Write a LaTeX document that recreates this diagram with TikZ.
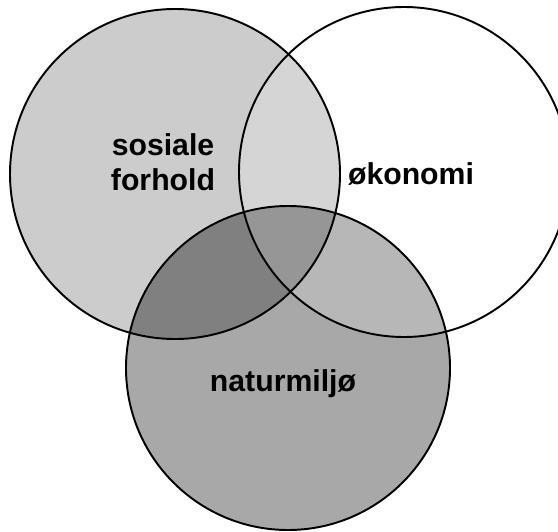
\documentclass[tikz,border=0pt]{standalone}
\usepackage{fontspec}
\setmainfont{Liberation Sans}
\usetikzlibrary{positioning}

\newcommand{\sosialring}{(175,174) circle (165)}
\newcommand{\okonomiring}{(404,172) circle (165)}
\newcommand{\naturring}{(288,368) circle (162)}

\begin{document}
\begin{tikzpicture}[x=0.02cm,y=-0.02cm,
    ring/.style={draw=black,line width=1.1pt},
    lbl/.style={font=\bfseries\fontsize{17.2pt}{19.9pt}\selectfont,align=center,inner sep=0pt,anchor=base}]
    \useasboundingbox (0,0) rectangle (558,531);
    % fills
    \fill[black!20] \sosialring;
    \fill[black!34] \naturring;
    \begin{scope}
        \clip \sosialring;
        \fill[black!50] \naturring;
    \end{scope}
    \fill[white,fill opacity=0.18] \okonomiring;
    % outlines
    \draw[ring] \sosialring;
    \draw[ring] \okonomiring;
    \draw[ring] \naturring;
    % labels
    \node[lbl] (sosial) at (163,190) {sosiale\\forhold};
    \node[lbl] (okonomi) at (411,184) {økonomi};
    \node[lbl] (natur) at (283,391) {naturmiljø};
\end{tikzpicture}
\end{document}
